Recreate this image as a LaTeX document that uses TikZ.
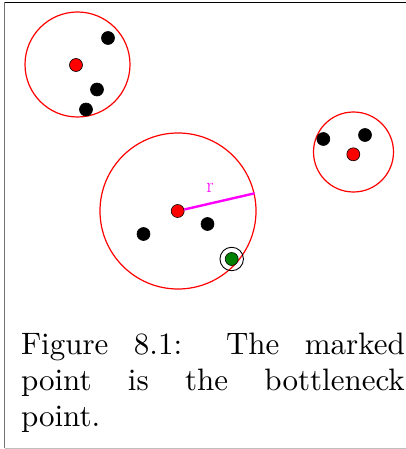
\documentclass[tikz,border=0pt]{standalone}
\usepackage{graphicx}
\definecolor{magfull}{RGB}{255,0,255}
\definecolor{redfull}{RGB}{255,0,0}
\definecolor{greenfull}{RGB}{0,128,0}
\begin{document}
\begin{tikzpicture}[x=1pt,y=-1pt,
  dotb/.style={circle,fill=black,draw=black,line width=0.6pt,minimum size=13pt,inner sep=0pt},
  dotr/.style={dotb,fill=redfull},
  dotg/.style={dotb,fill=greenfull},
  ring/.style={circle,draw=black,line width=0.9pt,minimum size=23.5pt,inner sep=0pt},
  clus/.style={circle,draw=redfull,line width=1.2pt,inner sep=0pt}]
\useasboundingbox (0,0) rectangle (406,449);
% frame
\coordinate (tl) at (4.5,2.5);
\coordinate (tr) at (406,2.5);
\coordinate (bl) at (4.5,448);
\coordinate (br) at (406,448);
\draw[black,line width=1.2pt] (tl) -- (tr);
\draw[black!55,line width=1.5pt] (tl) -- (bl);
\draw[black!25,line width=1pt] (bl) -- (br);
% cluster 1
\node[clus,minimum size=105pt] (C1) at (77.5,64.5) {};
\node[dotr] (c1) at (76,65) {};
\node[dotb] (a1) at (108,38) {};
\node[dotb] (a2) at (97,89.5) {};
\node[dotb] (a3) at (86,109.5) {};
% cluster 2
\node[clus,minimum size=156pt] (C2) at (178,211) {};
\node[dotr] (c2) at (177.7,211) {};
\node[dotb] (b1) at (143.5,234) {};
\node[dotb] (b2) at (207.5,224) {};
\node[dotg] (g) at (231.7,259) {};
\node[ring] (gr) at (231.7,259) {};
\draw[magfull,line width=2.4pt] (c2.13.6) -- (C2.13.6);
\node[text=magfull,font=\fontsize{21}{24}\selectfont,inner sep=0pt] (rl) at (210,188) {r};
% cluster 3
\node[clus,minimum size=80pt] (C3) at (353.5,152) {};
\node[dotr] (c3) at (353.3,154.3) {};
\node[dotb] (d1) at (323.3,139) {};
\node[dotb] (d2) at (365,135) {};
% caption
\node[anchor=north west,inner sep=0pt] (cap) at (20.8,332.8)
  {\scalebox{3.1}{\parbox{123.8pt}{\fontsize{10}{11.57}\selectfont
   Figure 8.1: The marked\linebreak point is the bottleneck\linebreak point.}}};
\end{tikzpicture}
\end{document}
